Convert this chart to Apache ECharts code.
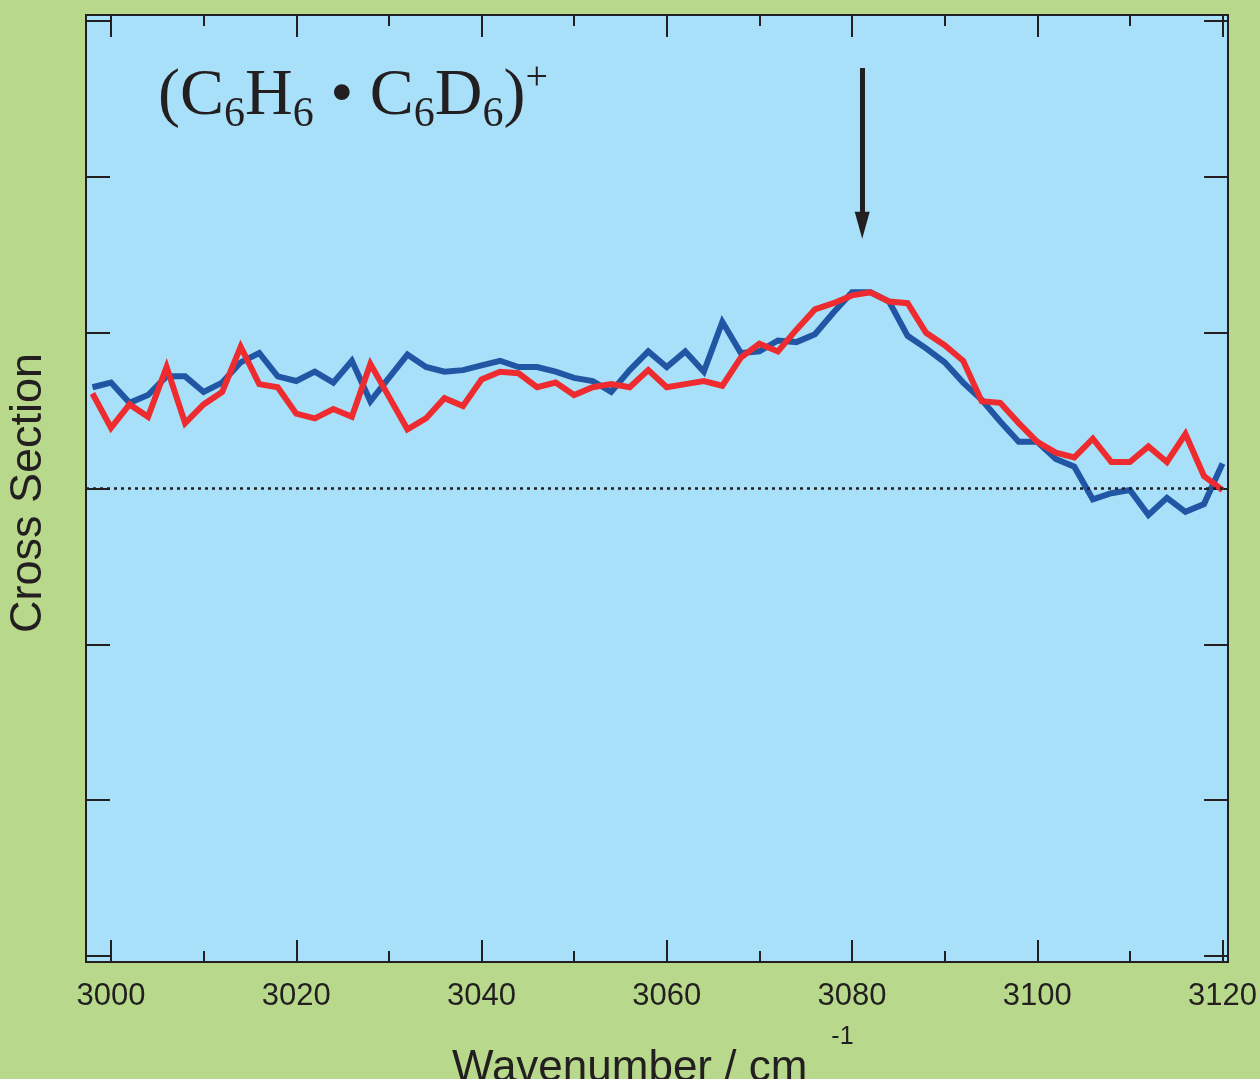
<!DOCTYPE html>
<html>
<head>
<meta charset="utf-8">
<script src="https://cdn.jsdelivr.net/npm/echarts@6/dist/echarts.min.js"></script>
<style>
html,body{margin:0;padding:0;background:#b8d98b;overflow:hidden;}
#chart{width:1260px;height:1079px;}
</style>
</head>
<body>
<div id="chart"></div>
<script>
const wavenumber = [2998,3000,3002,3004,3006,3008,3010,3012,3014,3016,3018,3020,3022,3024,3026,3028,3030,3032,3034,3036,3038,3040,3042,3044,3046,3048,3050,3052,3054,3056,3058,3060,3062,3064,3066,3068,3070,3072,3074,3076,3078,3080,3082,3084,3086,3088,3090,3092,3094,3096,3098,3100,3102,3104,3106,3108,3110,3112,3114,3116,3118,3120];
const blueSeries = [0.65,0.68,0.55,0.60,0.72,0.72,0.62,0.68,0.81,0.87,0.72,0.69,0.75,0.68,0.82,0.56,0.71,0.86,0.78,0.75,0.76,0.79,0.82,0.78,0.78,0.75,0.71,0.69,0.62,0.76,0.88,0.78,0.88,0.75,1.07,0.87,0.88,0.95,0.94,0.99,1.13,1.26,1.26,1.20,0.98,0.90,0.81,0.68,0.57,0.43,0.30,0.30,0.19,0.14,-0.07,-0.03,-0.01,-0.17,-0.06,-0.15,-0.10,0.16];
const redSeries = [0.61,0.39,0.54,0.46,0.78,0.42,0.54,0.62,0.91,0.67,0.65,0.48,0.45,0.51,0.46,0.80,0.59,0.38,0.45,0.58,0.53,0.70,0.75,0.74,0.65,0.68,0.60,0.65,0.67,0.65,0.76,0.65,0.67,0.69,0.66,0.84,0.93,0.88,1.02,1.15,1.19,1.24,1.26,1.20,1.19,1.00,0.92,0.82,0.56,0.55,0.42,0.30,0.23,0.20,0.32,0.17,0.17,0.27,0.17,0.35,0.08,-0.01];
const xMajorTicks = [3000,3020,3040,3060,3080,3100,3120];
const xMinorTicks = [3010,3030,3050,3070,3090,3110];
const yTicks = [-3,-2,-1,0,1,2,3];
const arrowX = 3081.1, arrowTop = 2.70, arrowEnd = 1.69;

const dark = '#231f20';
const xMin = 2997.3, xMax = 3120.6, yMin = -3.04, yMax = 3.04;

function xAxisDef(pos, ticks, len, showLine, showLabel) {
  return {
    type: 'value', position: pos, min: xMin, max: xMax,
    axisLine: {show: showLine, onZero: false, lineStyle: {color: dark, width: 2}},
    axisTick: {show: true, inside: true, length: len, customValues: ticks, lineStyle: {color: dark, width: 2}},
    axisLabel: {show: showLabel, customValues: ticks, margin: 19, fontSize: 31, color: dark,
      fontFamily: 'Liberation Sans, Arial, sans-serif', formatter: v => String(Math.round(v))},
    splitLine: {show: false}
  };
}
function yAxisDef(pos) {
  return {
    type: 'value', position: pos, min: yMin, max: yMax,
    axisLine: {show: true, onZero: false, lineStyle: {color: dark, width: 2}},
    axisTick: {show: true, inside: true, length: 24, customValues: yTicks, lineStyle: {color: dark, width: 2}},
    axisLabel: {show: false},
    splitLine: {show: false}
  };
}

const chart = echarts.init(document.getElementById('chart'), null, {renderer: 'canvas', width: 1260, height: 1079});
chart.setOption({
  animation: false,
  backgroundColor: '#b8d98b',
  grid: {left: 86, right: 29, top: 15, bottom: 117, show: true, backgroundColor: '#a8e0fa', borderWidth: 0},
  xAxis: [
    xAxisDef('bottom', xMajorTicks, 22, true, true),
    xAxisDef('bottom', xMinorTicks, 11, false, false),
    xAxisDef('top', xMajorTicks, 22, true, false),
    xAxisDef('top', xMinorTicks, 11, false, false)
  ],
  yAxis: [yAxisDef('left'), yAxisDef('right')],
  graphic: [
    {
      type: 'text', x: 158, y: 58, z: 100,
      style: {
        text: '{m|(C}{s|6}{m|H}{s|6}{m| • C}{s|6}{m|D}{s|6}{m|)}{p|+}',
        fill: dark,
        verticalAlign: 'top',
        align: 'left',
        rich: {
          m: {fontFamily: 'Liberation Serif, Times New Roman, serif', fontSize: 66, lineHeight: 78, verticalAlign: 'middle', fill: dark},
          s: {fontFamily: 'Liberation Serif, Times New Roman, serif', fontSize: 42, lineHeight: 42, verticalAlign: 'bottom', fill: dark},
          p: {fontFamily: 'Liberation Serif, Times New Roman, serif', fontSize: 40, lineHeight: 40, verticalAlign: 'top', fill: dark}
        }
      }
    },
    {
      type: 'text', x: 452, y: 1019, z: 100,
      style: {
        text: '{a|Wavenumber / cm}{b|-1}',
        fill: dark, verticalAlign: 'top', align: 'left',
        rich: {
          a: {fontFamily: 'Liberation Sans, Arial, sans-serif', fontSize: 44, lineHeight: 100, verticalAlign: 'middle', fill: dark},
          b: {fontFamily: 'Liberation Sans, Arial, sans-serif', fontSize: 25, lineHeight: 30, verticalAlign: 'top', padding: [6, 0, 0, 24], fill: dark}
        }
      }
    },
    {
      type: 'text', x: 29, y: 493, rotation: Math.PI / 2, z: 100,
      style: {
        text: 'Cross Section', fill: dark,
        font: '45px "Liberation Sans", Arial, sans-serif',
        align: 'center', verticalAlign: 'middle'
      }
    }
  ],
  series: [
    {
      type: 'line', name: 'zero', data: [], z: 1,
      markLine: {
        silent: true, symbol: ['none', 'none'], label: {show: false},
        lineStyle: {color: dark, width: 2.5, type: [3, 4]},
        data: [{yAxis: 0}]
      }
    },
    {
      type: 'line', name: 'C6H6', z: 2,
      data: wavenumber.map((w, i) => [w, blueSeries[i]]),
      showSymbol: false, symbol: 'none',
      lineStyle: {color: '#2156a5', width: 6, join: 'miter'}
    },
    {
      type: 'line', name: 'C6D6', z: 3,
      data: wavenumber.map((w, i) => [w, redSeries[i]]),
      showSymbol: false, symbol: 'none',
      lineStyle: {color: '#ee2b2e', width: 6, join: 'miter'},
      markLine: {
        silent: true, symbol: ['none', 'triangle'], symbolSize: [15, 27], label: {show: false},
        lineStyle: {color: dark, width: 5, type: 'solid'},
        itemStyle: {color: dark},
        data: [[{coord: [arrowX, arrowTop]}, {coord: [arrowX, arrowEnd]}]]
      }
    }
  ]
});
</script>
</body>
</html>
